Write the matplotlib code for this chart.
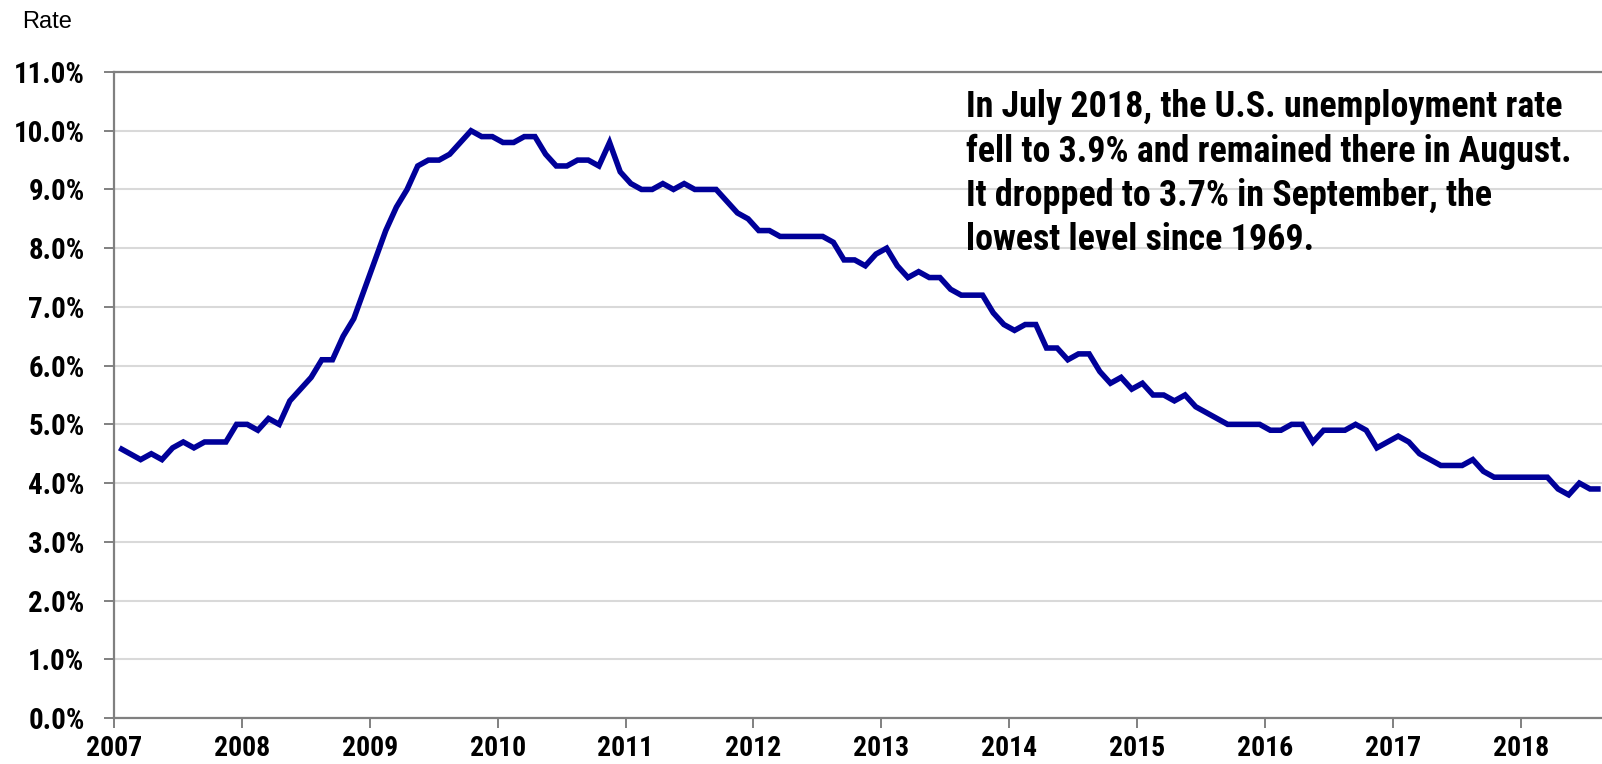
import matplotlib
matplotlib.use("Agg")
import matplotlib.pyplot as plt
from matplotlib import font_manager as fm
import numpy as np

# Monthly U.S. unemployment rate, Jan 2007 - Aug 2018 (%)
rate_2007 = [4.6, 4.5, 4.4, 4.5, 4.4, 4.6, 4.7, 4.6, 4.7, 4.7, 4.7, 5.0]
rate_2008 = [5.0, 4.9, 5.1, 5.0, 5.4, 5.6, 5.8, 6.1, 6.1, 6.5, 6.8, 7.3]
rate_2009 = [7.8, 8.3, 8.7, 9.0, 9.4, 9.5, 9.5, 9.6, 9.8, 10.0, 9.9, 9.9]
rate_2010 = [9.8, 9.8, 9.9, 9.9, 9.6, 9.4, 9.4, 9.5, 9.5, 9.4, 9.8, 9.3]
rate_2011 = [9.1, 9.0, 9.0, 9.1, 9.0, 9.1, 9.0, 9.0, 9.0, 8.8, 8.6, 8.5]
rate_2012 = [8.3, 8.3, 8.2, 8.2, 8.2, 8.2, 8.2, 8.1, 7.8, 7.8, 7.7, 7.9]
rate_2013 = [8.0, 7.7, 7.5, 7.6, 7.5, 7.5, 7.3, 7.2, 7.2, 7.2, 6.9, 6.7]
rate_2014 = [6.6, 6.7, 6.7, 6.3, 6.3, 6.1, 6.2, 6.2, 5.9, 5.7, 5.8, 5.6]
rate_2015 = [5.7, 5.5, 5.5, 5.4, 5.5, 5.3, 5.2, 5.1, 5.0, 5.0, 5.0, 5.0]
rate_2016 = [4.9, 4.9, 5.0, 5.0, 4.7, 4.9, 4.9, 4.9, 5.0, 4.9, 4.6, 4.7]
rate_2017 = [4.8, 4.7, 4.5, 4.4, 4.3, 4.3, 4.3, 4.4, 4.2, 4.1, 4.1, 4.1]
rate_2018 = [4.1, 4.1, 4.1, 3.9, 3.8, 4.0, 3.9, 3.9]

rates = (rate_2007 + rate_2008 + rate_2009 + rate_2010 + rate_2011 + rate_2012 +
         rate_2013 + rate_2014 + rate_2015 + rate_2016 + rate_2017 + rate_2018)
year_labels = [str(y) for y in range(2007, 2019)]
y_ticks = [i * 1.0 for i in range(12)]

annotation_lines = ["In July 2018, the U.S. unemployment rate",
                    "fell to 3.9% and remained there in August.",
                    "It dropped to 3.7% in September, the",
                    "lowest level since 1969."]


# ---- pick a condensed bold font if one is installed -------------------------
def _wval(w):
    if isinstance(w, (int, float)):
        return w
    return {'bold': 700, 'heavy': 800, 'black': 900, 'semibold': 600,
            'demibold': 600, 'normal': 400, 'regular': 400}.get(str(w).lower(), 400)


def find_narrow_bold():
    prefs = ['Liberation Sans Narrow', 'Arial Narrow', 'Roboto Condensed',
             'Open Sans Condensed', 'Noto Sans Condensed', 'DejaVu Sans Condensed']
    ttf = fm.fontManager.ttflist
    for name in prefs:
        for f in ttf:
            if f.name == name and _wval(f.weight) >= 700 and f.style == 'normal':
                return fm.FontProperties(fname=f.fname)
    for f in ttf:
        fn = f.fname.lower()
        cond = ('condensed' in fn or 'narrow' in fn or
                str(f.stretch) in ('condensed', 'semi-condensed', 'extra-condensed'))
        if cond and 'semicondensed' not in fn and 'extra' not in fn and \
                _wval(f.weight) == 700 and f.style == 'normal' and 'oblique' not in fn \
                and 'italic' not in fn:
            return fm.FontProperties(fname=f.fname)
    return fm.FontProperties(family=['Liberation Sans', 'DejaVu Sans'], weight='bold')


bold_fp = find_narrow_bold()
regular = ['Liberation Sans', 'DejaVu Sans']

W, H = 1602, 764
fig = plt.figure(figsize=(W / 100, H / 100), dpi=100)
renderer = fig.canvas.get_renderer()


def fit_size(text, target_px, base=20.0):
    fp = bold_fp.copy()
    fp.set_size(base)
    t = fig.text(0, 0, text, fontproperties=fp)
    w = t.get_window_extent(renderer).width
    t.remove()
    return base * target_px / w


ysize = min(fit_size("11.0%", 71), 21)
xsize = min(fit_size("2007", 56), 22)
asize = min(fit_size(annotation_lines[1], 607, 25), 28.5)

left_px, right_px, top_px, bottom_px = 114, 1606, 72, 718
ax = fig.add_axes([left_px / W, 1 - bottom_px / H,
                   (right_px - left_px) / W, (bottom_px - top_px) / H])

n = len(rates)
x = np.arange(n) + 0.5
ax.plot(x, rates, color='#000099', lw=4.0, solid_joinstyle='miter',
        solid_capstyle='butt', zorder=3, clip_on=False)

ax.set_xlim(0, 140)
ax.set_ylim(0, 11)
ax.set_xticks([12 * i for i in range(len(year_labels))])
ax.set_xticklabels(year_labels)
ax.set_yticks(y_ticks)
ax.set_yticklabels([f"{v:.1f}%" for v in y_ticks])

ax.grid(axis='y', color='#d9d9d9', lw=1.5, zorder=1)
ax.set_axisbelow(True)

for side in ['left', 'top', 'bottom']:
    ax.spines[side].set_color('#808080')
    ax.spines[side].set_linewidth(1.6)
ax.spines['right'].set_visible(False)

ax.tick_params(axis='y', direction='out', length=7.2, width=1.4, color='#808080', pad=14)
ax.tick_params(axis='x', direction='out', length=7.2, width=1.4, color='#808080', pad=5)

fpy = bold_fp.copy(); fpy.set_size(ysize)
fpx = bold_fp.copy(); fpx.set_size(xsize)
for lab in ax.get_yticklabels():
    lab.set_fontproperties(fpy)
for lab in ax.get_xticklabels():
    lab.set_fontproperties(fpx)

fig.text(22 / W, 1 - 28 / H, "Rate", family=regular, fontsize=17,
         ha='left', va='baseline')

fpa = bold_fp.copy(); fpa.set_size(asize)
baselines_px = [117, 161.5, 206, 250.5]
for line, yb in zip(annotation_lines, baselines_px):
    fig.text(966 / W, 1 - yb / H, line, fontproperties=fpa,
             ha='left', va='baseline')

fig.savefig("out.png", dpi=100)
